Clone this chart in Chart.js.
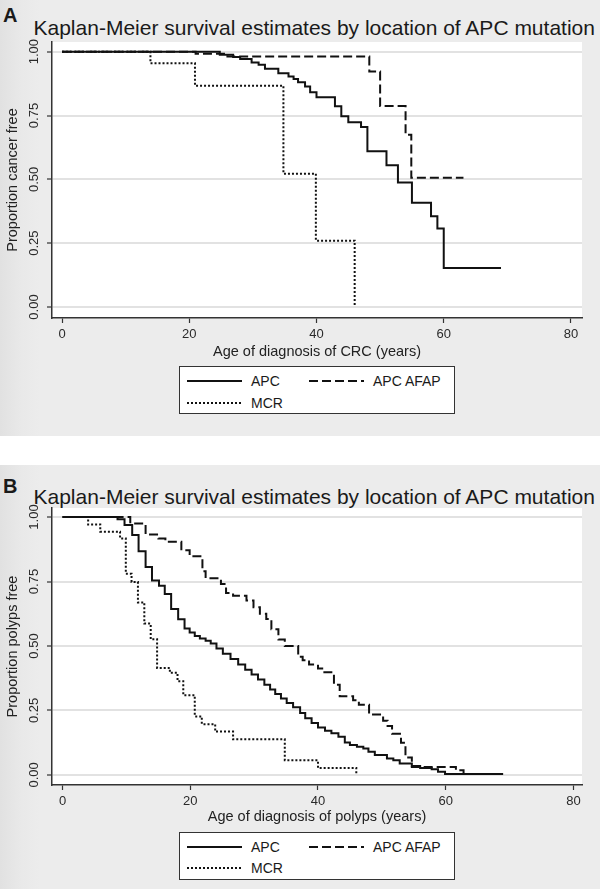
<!DOCTYPE html>
<html><head><meta charset="utf-8">
<script src="https://cdn.jsdelivr.net/npm/chart.js@4.4.0/dist/chart.umd.min.js"></script>
<style>
html,body{margin:0;padding:0;background:#fff;}
body{width:600px;height:889px;position:relative;overflow:hidden;font-family:"Liberation Sans",Arial,sans-serif;color:#1a1a1a;}
.panel{position:absolute;left:0;width:600px;background:linear-gradient(to right,#e1e1e1 0px,#e9e9e9 22px,#ececec 40px,#ececec 100%);}
.lbl{position:absolute;font-weight:bold;font-size:20px;line-height:20px;}
.title{position:absolute;font-size:21px;line-height:21px;white-space:nowrap;}
canvas{position:absolute;left:0;}
.legend{position:absolute;background:#fff;border:1px solid #333;box-sizing:border-box;width:276px;height:48px;left:179px;}
.item{position:absolute;font-size:14px;line-height:14px;white-space:nowrap;}
.legend svg{position:absolute;left:0;top:0;}
</style></head><body>
<div class="panel" style="top:0;height:436px;"></div>
<div class="panel" style="top:465px;height:424px;"></div>
<div class="lbl" style="left:3px;top:5px;">A</div>
<div class="title" style="left:33.5px;top:17px;">Kaplan-Meier survival estimates by location of APC mutation</div>
<div class="lbl" style="left:3px;top:476px;">B</div>
<div class="title" style="left:33.5px;top:486px;">Kaplan-Meier survival estimates by location of APC mutation</div>
<canvas id="cA" width="600" height="361" style="top:0px;"></canvas>
<canvas id="cB" width="600" height="361" style="top:465px;"></canvas>
<div class="legend" id="legA" style="top:366px;"></div>
<div class="legend" id="legB" style="top:832px;"></div>
<script>
// ---- data ----
const seriesNames = ["APC", "APC AFAP", "MCR"];
const xTicks = [0, 20, 40, 60, 80];
const xTickLabels = ["0", "20", "40", "60", "80"];
const yTicks = [0, 0.25, 0.5, 0.75, 1];
const yTickLabels = ["0.00", "0.25", "0.50", "0.75", "1.00"];

// Panel A: cancer-free survival
const crcAge_APC  = [0, 24.8, 26.9, 28.0, 29.8, 30.9, 31.9, 34.0, 35.6, 36.4, 37.1, 38.2, 39.0, 40.0, 42.9, 43.9, 45.0, 47.0, 48.0, 51.0, 52.8, 55.0, 58.0, 59.0, 60.0, 69.0];
const crcSurv_APC = [1, 0.988, 0.979, 0.971, 0.958, 0.949, 0.933, 0.916, 0.903, 0.893, 0.880, 0.864, 0.841, 0.822, 0.786, 0.747, 0.724, 0.705, 0.610, 0.555, 0.488, 0.408, 0.356, 0.308, 0.153, 0.153];
const crcAge_AFAP  = [0, 21.0, 26.0, 48.3, 50.0, 54.0, 54.9, 63.1];
const crcSurv_AFAP = [1, 0.992, 0.981, 0.922, 0.787, 0.675, 0.506, 0.506];
const crcAge_MCR  = [0, 13.9, 20.9, 34.8, 39.9, 46.0];
const crcSurv_MCR = [1, 0.955, 0.867, 0.522, 0.260, 0];

// Panel B: polyp-free survival
const polAge_APC  = [0, 8.6, 9.7, 10.9, 11.9, 13.0, 14.0, 15.1, 16.0, 17.0, 18.1, 19.1, 19.9, 20.7, 21.5, 22.4, 23.2, 24.1, 25.1, 26.3, 27.5, 28.6, 29.6, 30.6, 31.6, 32.5, 33.3, 34.2, 35.1, 36.1, 37.2, 38.0, 39.0, 40.0, 41.1, 42.1, 43.2, 44.2, 45.0, 46.1, 47.1, 47.9, 48.9, 50.8, 51.8, 52.8, 54.7, 56.0, 57.8, 58.8, 59.9, 69.0];
const polSurv_APC = [1, 0.991, 0.969, 0.930, 0.867, 0.806, 0.754, 0.734, 0.702, 0.643, 0.604, 0.568, 0.552, 0.539, 0.529, 0.520, 0.510, 0.490, 0.470, 0.450, 0.428, 0.408, 0.389, 0.370, 0.350, 0.331, 0.314, 0.296, 0.279, 0.262, 0.240, 0.220, 0.201, 0.184, 0.171, 0.162, 0.148, 0.126, 0.116, 0.109, 0.103, 0.090, 0.077, 0.064, 0.057, 0.044, 0.035, 0.027, 0.022, 0.012, 0.004, 0.004];
const polAge_AFAP  = [0, 10.6, 13.0, 15.0, 16.1, 18.6, 19.9, 21.9, 22.4, 24.8, 25.6, 26.7, 28.8, 29.9, 30.9, 31.9, 32.7, 33.8, 34.8, 36.9, 37.6, 38.6, 40.0, 41.0, 42.5, 43.4, 45.5, 46.4, 48.0, 50.2, 50.9, 51.6, 53.0, 53.7, 54.7, 61.6, 62.8];
const polSurv_AFAP = [1, 0.975, 0.932, 0.917, 0.904, 0.871, 0.848, 0.790, 0.763, 0.740, 0.705, 0.695, 0.676, 0.650, 0.625, 0.605, 0.565, 0.525, 0.500, 0.458, 0.445, 0.428, 0.413, 0.398, 0.350, 0.305, 0.290, 0.272, 0.234, 0.210, 0.190, 0.160, 0.125, 0.068, 0.031, 0.018, 0];
const polAge_MCR  = [0, 4.0, 5.9, 9.0, 9.9, 10.8, 11.8, 12.8, 13.8, 14.8, 16.8, 18.0, 18.9, 20.7, 21.8, 23.9, 26.7, 34.8, 40.0, 46.0];
const polSurv_MCR = [1, 0.971, 0.943, 0.917, 0.780, 0.748, 0.669, 0.587, 0.526, 0.415, 0.396, 0.363, 0.309, 0.227, 0.197, 0.168, 0.138, 0.057, 0.027, 0];

// ---- styles ----
const FONT = '"Liberation Sans", Arial, sans-serif';
const lineStyles = [
  {dash: [], width: 2},
  {dash: [9, 4], width: 2},
  {dash: [2, 2], width: 2}
];
const INK = '#111';

const plotBg = {
  id: 'plotBg',
  beforeDraw(chart) {
    const {ctx, chartArea: a} = chart;
    ctx.save();
    ctx.fillStyle = '#ffffff';
    ctx.fillRect(a.left, a.top, a.right - a.left, a.bottom - a.top);
    ctx.restore();
  }
};

function pts(t, s) { return t.map((x, i) => ({x: x, y: s[i]})); }

function makeChart(id, series, xTitle, yTitle, cfg) {
  const datasets = series.map((sr, i) => ({
    label: seriesNames[i],
    data: pts(sr[0], sr[1]),
    stepped: 'before',
    borderColor: INK,
    borderWidth: lineStyles[i].width,
    borderDash: lineStyles[i].dash,
    borderCapStyle: 'butt',
    pointRadius: 0,
    fill: false
  }));
  return new Chart(document.getElementById(id), {
    type: 'line',
    data: {datasets},
    plugins: [plotBg],
    options: {
      responsive: false,
      animation: false,
      devicePixelRatio: 1,
      layout: {padding: {left: 0, right: 18, top: cfg.top, bottom: 0}},
      plugins: {legend: {display: false}, tooltip: {enabled: false}, title: {display: false}},
      scales: {
        x: {
          type: 'linear', min: cfg.xmin, max: cfg.xmax,
          afterBuildTicks: s => { s.ticks = xTicks.map(v => ({value: v})); },
          afterFit: s => { s.height = cfg.xh; },
          ticks: {callback: (v, i) => xTickLabels[i], minRotation: 0, maxRotation: 0, padding: 4,
                  font: {family: FONT, size: 13}, color: '#2a2a2a'},
          grid: {drawOnChartArea: false, drawTicks: true, tickLength: 5, tickColor: '#333', tickWidth: 1.2, color: '#333'},
          border: {display: true, color: '#333', width: 1.5},
          title: {display: true, text: xTitle, font: {family: FONT, size: 14.5}, color: '#222', padding: {top: 0, bottom: 0}}
        },
        y: {
          type: 'linear', min: cfg.ymin, max: cfg.ymax,
          afterBuildTicks: s => { s.ticks = yTicks.map(v => ({value: v})); },
          afterFit: s => { s.width = 52; },
          ticks: {callback: (v, i) => yTickLabels[i], minRotation: 90, maxRotation: 90, crossAlign: 'center', padding: 0,
                  font: {family: FONT, size: 13}, color: '#2a2a2a'},
          grid: {color: '#e2e2e2', lineWidth: 2, drawTicks: true, tickLength: 5, tickColor: '#333', tickWidth: 1.2},
          border: {display: true, color: '#333', width: 1.5},
          title: {display: true, text: yTitle, font: {family: FONT, size: 14.5}, color: '#222', padding: {top: 4, bottom: 0}}
        }
      }
    }
  });
}

makeChart('cA', [[crcAge_APC, crcSurv_APC], [crcAge_AFAP, crcSurv_AFAP], [crcAge_MCR, crcSurv_MCR]],
  'Age of diagnosis of CRC (years)', 'Proportion cancer free',
  {top: 42, xh: 43, xmin: -1.572, xmax: 81.73, ymin: -0.043, ymax: 1.038});
makeChart('cB', [[polAge_APC, polSurv_APC], [polAge_AFAP, polSurv_AFAP], [polAge_MCR, polSurv_MCR]],
  'Age of diagnosis of polyps (years)', 'Proportion polyps free',
  {top: 43, xh: 41, xmin: -1.66, xmax: 81.35, ymin: -0.039, ymax: 1.035});

// ---- legends ----
function buildLegend(id, rows) {
  const el = document.getElementById(id);
  const pos = [{lx: 7, tx: 71, r: 0}, {lx: 129, tx: 193, r: 0}, {lx: 7, tx: 71, r: 1}];
  let svg = '<svg width="276" height="48" xmlns="http://www.w3.org/2000/svg">';
  let html = '';
  seriesNames.forEach((n, i) => {
    const p = pos[i];
    const y = rows[p.r] - 1;
    const st = lineStyles[i];
    svg += '<line x1="' + p.lx + '" y1="' + y + '" x2="' + (p.lx + 55) + '" y2="' + y +
      '" stroke="' + INK + '" stroke-width="' + st.width + '"' + (st.dash.length ? ' stroke-dasharray="' + st.dash.join(',') + '"' : '') + '/>';
    html += '<div class="item" style="left:' + p.tx + 'px;top:' + (rows[p.r] - 8) + 'px;">' + n + '</div>';
  });
  svg += '</svg>';
  el.innerHTML = svg + html;
}
buildLegend('legA', [15, 37]);
buildLegend('legB', [15, 36]);
</script>
</body></html>
